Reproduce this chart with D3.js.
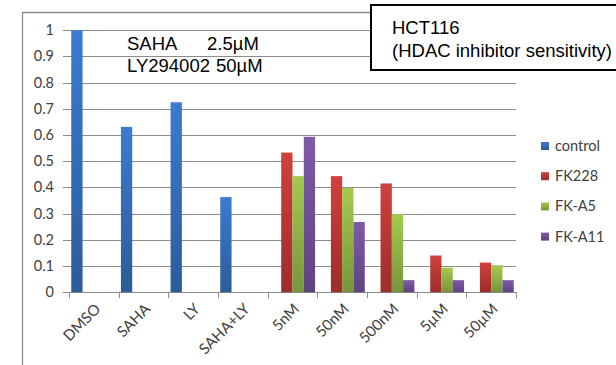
<!DOCTYPE html>
<html><head><meta charset="utf-8">
<script src="https://cdn.jsdelivr.net/npm/d3@7"></script>
<style>
html,body{margin:0;padding:0;background:#fff;}
svg{display:block;}
</style></head>
<body>
<svg id="chart" width="616" height="365"></svg>
<script>
const categories = ["DMSO","SAHA","LY","SAHA+LY","5nM","50nM","500nM","5\u00b5M","50\u00b5M"];
const seriesNames = ["control","FK228","FK-A5","FK-A11"];
const controlValues = [1.0, 0.631, 0.725, 0.363, null, null, null, null, null];
const fk228Values   = [null, null, null, null, 0.533, 0.443, 0.415, 0.140, 0.113];
const fkA5Values    = [null, null, null, null, 0.443, 0.398, 0.298, 0.094, 0.103];
const fkA11Values   = [null, null, null, null, 0.593, 0.268, 0.046, 0.046, 0.046];
const yTicks = [0,0.1,0.2,0.3,0.4,0.5,0.6,0.7,0.8,0.9,1];
const colorsTop = ["#3b7bd0","#d1403c","#a4cb4e","#7f5aa9"];
const colorsBottom = ["#2c5c99","#9c2d2a","#77953c","#5e4381"];

const allSeries = [controlValues, fk228Values, fkA5Values, fkA11Values];

const svg = d3.select("#chart");
const pLeft = 69, pRight = 516, pTop = 30.2, pBottom = 292.2;

// outer chart border
svg.append("path").attr("d", "M22.5,366 L22.5,12.5 L372,12.5")
  .attr("fill","none").attr("stroke","#8c8c8c").attr("stroke-width",1.3);

const defs = svg.append("defs");
seriesNames.forEach((s,i)=>{
  const g = defs.append("linearGradient").attr("id","g"+i).attr("x1",0).attr("y1",0).attr("x2",0).attr("y2",1);
  g.append("stop").attr("offset","0%").attr("stop-color",colorsTop[i]);
  g.append("stop").attr("offset","100%").attr("stop-color",colorsBottom[i]);
});

const x0 = d3.scaleBand().domain(categories).range([pLeft,pRight]).padding(0);
const x1 = d3.scaleBand().domain(seriesNames).range([0,x0.bandwidth()]).paddingInner(0).paddingOuter(0.2);
const y = d3.scaleLinear().domain([0,1]).range([pBottom,pTop]);

// gridlines
svg.append("g").selectAll("line").data(yTicks).join("line")
  .attr("x1",63).attr("x2",pRight)
  .attr("y1",d=>Math.round(y(d))+0.5).attr("y2",d=>Math.round(y(d))+0.5)
  .attr("stroke","#8c8c8c").attr("stroke-width",1);

// y labels
svg.append("g").selectAll("text").data(yTicks).join("text")
  .attr("x",54).attr("y",d=>y(d)).attr("dy","0.35em")
  .attr("text-anchor","end")
  .attr("font-family","Lato, 'Open Sans', sans-serif").attr("font-size",14.5)
  .attr("fill","#404040").text(d=>d3.format("")(d));

// x axis ticks
const bounds = categories.map(c=>x0(c)).concat([pRight]);
svg.append("g").selectAll("line").data(bounds).join("line")
  .attr("x1",d=>Math.round(d)+0.5).attr("x2",d=>Math.round(d)+0.5)
  .attr("y1",pBottom).attr("y2",pBottom+6)
  .attr("stroke","#8c8c8c").attr("stroke-width",1);

// bars
allSeries.forEach((vals,si)=>{
  svg.append("g").selectAll("rect").data(vals.map((v,i)=>({v,c:categories[i]})).filter(d=>d.v!=null))
    .join("rect")
    .attr("x",d=>x0(d.c)+x1(seriesNames[si]))
    .attr("width",x1.bandwidth())
    .attr("y",d=>y(d.v))
    .attr("height",d=>y(0)-y(d.v))
    .attr("fill","url(#g"+si+")");
});

// x labels
svg.append("g").selectAll("text").data(categories).join("text")
  .attr("transform",d=>`translate(${x0(d)+x0.bandwidth()/2+4},${pBottom+14}) rotate(-45)`)
  .attr("text-anchor","end").attr("dy","0.35em")
  .attr("font-family","Lato, 'Open Sans', sans-serif").attr("font-size",15)
  .attr("fill","#404040").text(d=>d);

// legend
const lg = svg.append("g");
seriesNames.forEach((s,i)=>{
  const cy = 146 + i*30.2;
  lg.append("rect").attr("x",541).attr("y",cy-4).attr("width",8).attr("height",8).attr("fill","url(#g"+i+")");
  lg.append("text").attr("x",555).attr("y",cy).attr("dy","0.35em")
    .attr("font-family","Lato, 'Open Sans', sans-serif").attr("font-size",14.5)
    .attr("fill","#404040").text(s);
});

// annotation text
const ann = svg.append("g").attr("font-family","'Liberation Sans', Arial, sans-serif").attr("font-size",18.5).attr("fill","#000");
ann.append("text").attr("x",127).attr("y",49.5).text("SAHA");
ann.append("text").attr("x",207).attr("y",49.5).text("2.5\u00b5M");
ann.append("text").attr("x",127).attr("y",72).text("LY294002");
ann.append("text").attr("x",216).attr("y",72).text("50\u00b5M");

// title box
svg.append("rect").attr("x",371).attr("y",5).attr("width",260).attr("height",65)
  .attr("fill","#fff").attr("stroke","#000").attr("stroke-width",2);
const tb = svg.append("g").attr("font-family","'Liberation Sans', Arial, sans-serif").attr("font-size",18.5).attr("fill","#000");
tb.append("text").attr("x",392).attr("y",34).text("HCT116");
tb.append("text").attr("x",392).attr("y",57).text("(HDAC inhibitor sensitivity)");
</script>
</body></html>
